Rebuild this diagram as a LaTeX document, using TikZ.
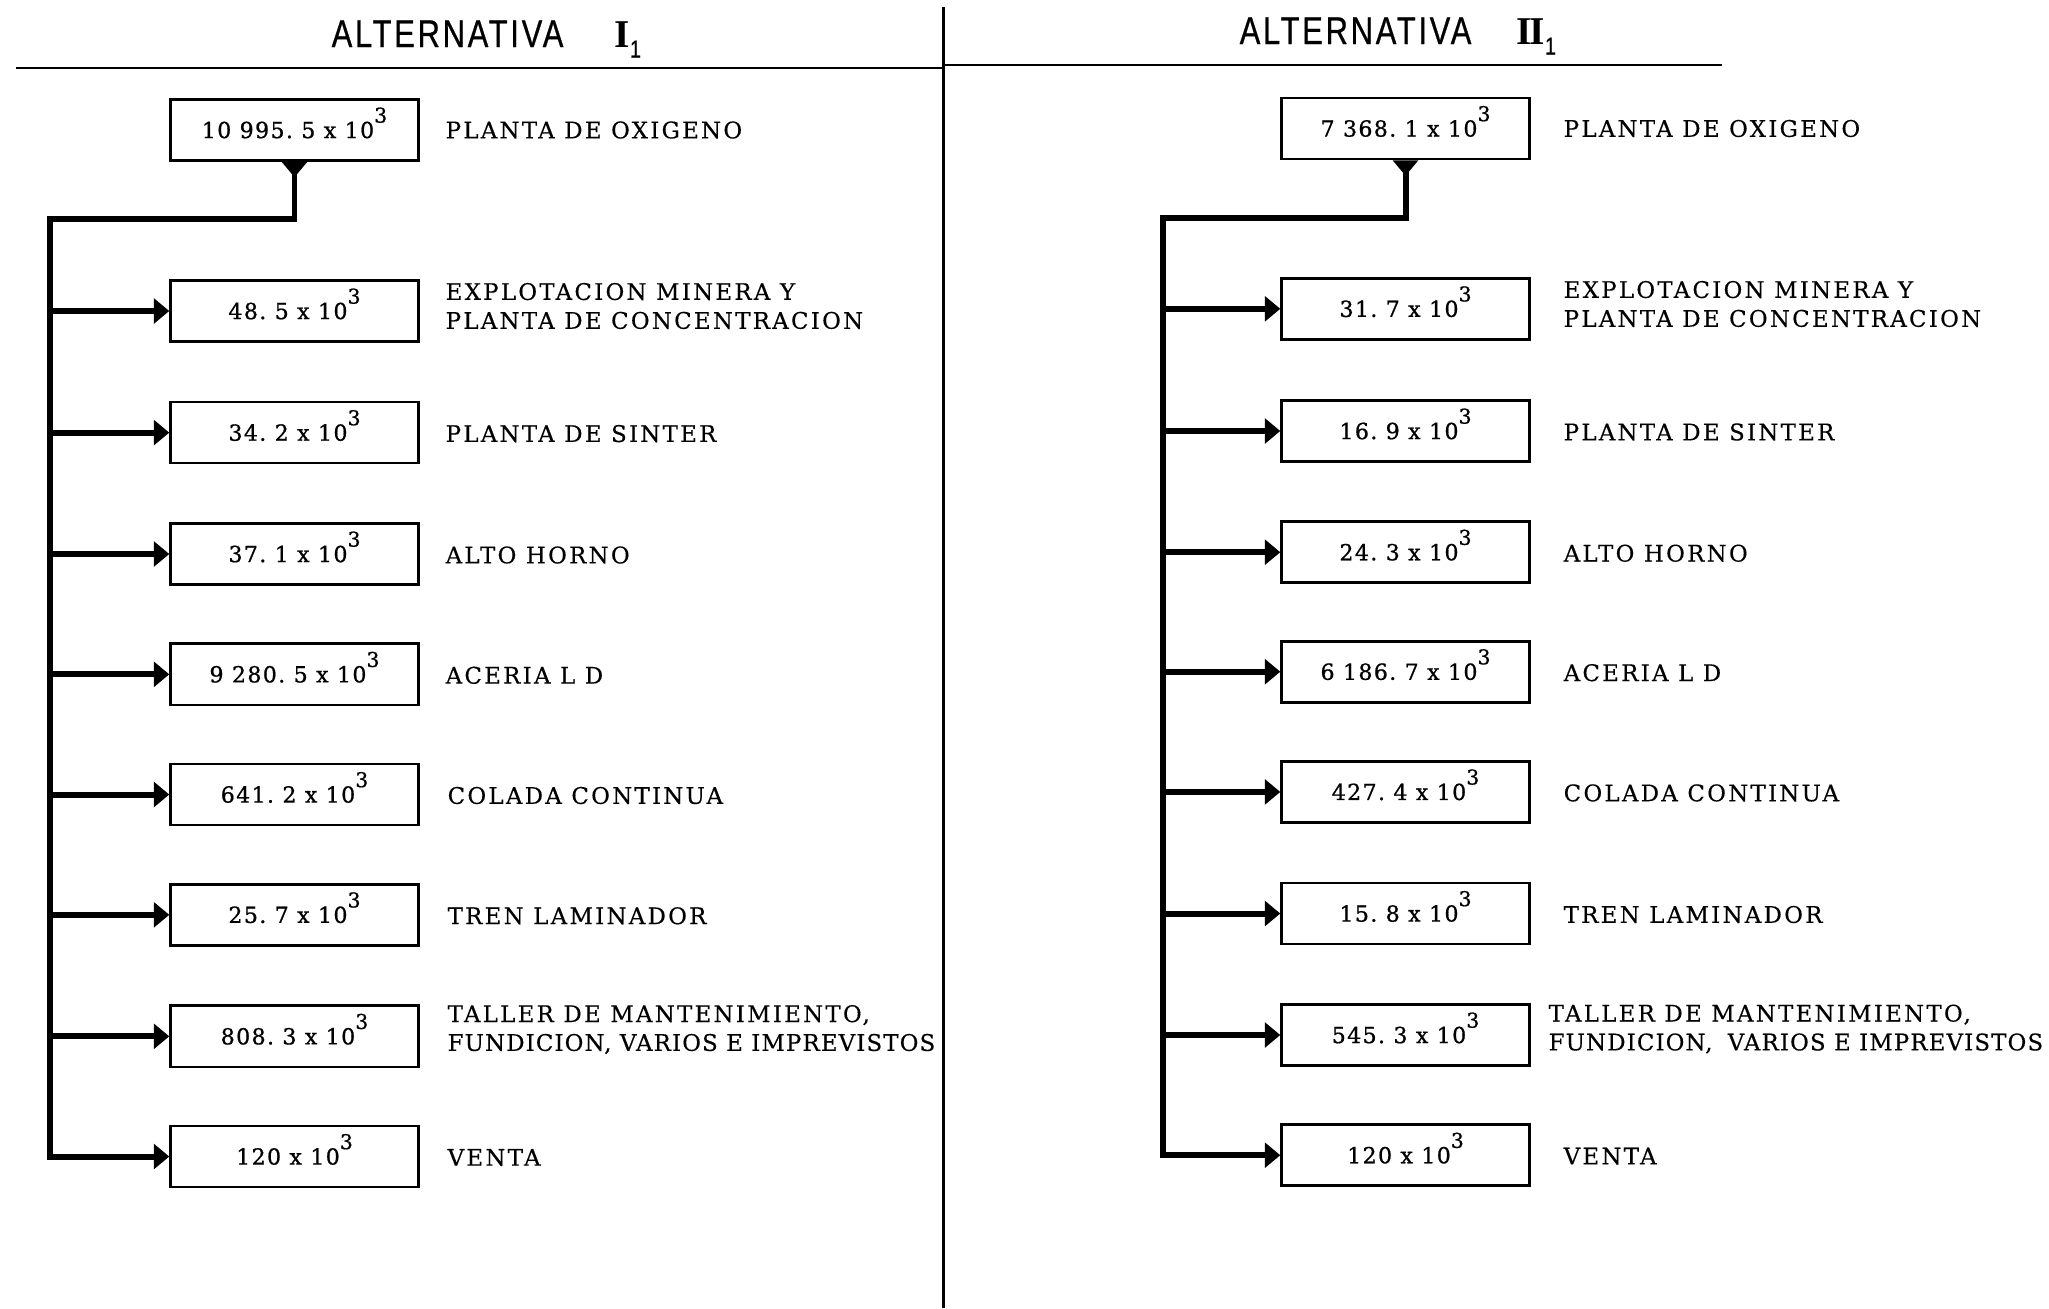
\documentclass[tikz,border=0pt]{standalone}
\usepackage{fontspec}
\usetikzlibrary{arrows.meta}
% typewriter-like lettering for labels and figures, narrow sans for headings
\newfontfamily\lblfont{DejaVu Serif}[LetterSpace=10,FakeBold=0.4]
\newfontfamily\lbltight{DejaVu Serif}[LetterSpace=5,FakeBold=0.4]
\newfontfamily\numfont{DejaVu Serif}[LetterSpace=6,FakeBold=0.8]
\newfontfamily\ttlfont{Liberation Sans}[FakeStretch=0.8,LetterSpace=7,FakeBold=0.6]
\newfontfamily\romfont{Liberation Serif}
\newcommand\tenpow{\smash{\raisebox{4.4pt}{\fontsize{5.8}{6}\selectfont 3}}}
\newcommand\romI{{\romfont\bfseries\fontsize{11.2}{11}\selectfont I}}
\newcommand\romII{{\romfont\bfseries\fontsize{11.2}{11}\selectfont I\kern-0.06em I}}
\newcommand\subone{\raisebox{-3pt}{\fontsize{7}{7}\selectfont 1}}

\tikzset{
  valbox/.style={draw, line width=0.75pt, minimum width=2.476cm, minimum height=0.61cm,
    inner sep=0pt, font=\numfont\fontsize{6.3}{7}\selectfont},
  lbl/.style={anchor=west, align=left, inner sep=0pt,
    font=\lblfont\fontsize{6.5}{8.2}\selectfont},
  ttl/.style={anchor=base west, inner sep=0pt, font=\ttlfont\fontsize{11}{12}\selectfont},
  bus/.style={line width=1.7pt},
  tip/.style={-{Triangle[length=4.4pt,width=7pt]}},
  feed/.style={bus, tip},
  rule/.style={line width=0.8pt},
}

\begin{document}
\begin{tikzpicture}[x=0.01cm, y=-0.01cm]
  \useasboundingbox (0,0) rectangle (2049,1308);
  \fill[white] (0,0) rectangle (2049,1308);

  % headings and rules
  \draw[line width=0.7pt] (943.5,7) -- (943.5,1308);
  \draw[rule] (16,68) -- (943.5,68);
  \draw[rule] (943.5,65) -- (1722,65);
  \node[ttl] (T1) at (331,47) {ALTERNATIVA};
  \node[ttl] (T1n) at (614,47) {\romI\subone};
  \node[ttl] (T2) at (1239,44) {ALTERNATIVA};
  \node[ttl] (T2n) at (1516,44) {\romII\subone};

  % ---- left column ----
  \node[valbox] (L0) at (294.5,130)    {10 995.\ 5 x 10\tenpow};
  \node[valbox] (L1) at (294.5,311)    {48.\ 5 x 10\tenpow};
  \node[valbox] (L2) at (294.5,432.6)  {34.\ 2 x 10\tenpow};
  \node[valbox] (L3) at (294.5,554)    {37.\ 1 x 10\tenpow};
  \node[valbox] (L4) at (294.5,674.3)  {9 280.\ 5 x 10\tenpow};
  \node[valbox] (L5) at (294.5,794.5)  {641.\ 2 x 10\tenpow};
  \node[valbox] (L6) at (294.5,914.8)  {25.\ 7 x 10\tenpow};
  \node[valbox] (L7) at (294.5,1036.3) {808.\ 3 x 10\tenpow};
  \node[valbox] (L8) at (294.5,1156.5) {120 x 10\tenpow};

  \node[lbl] (LA0) at (445,130)    {PLANTA DE OXIGENO};
  \node[lbl] (LA1) at (445,306)    {EXPLOTACION MINERA Y\\PLANTA DE CONCENTRACION};
  \node[lbl] (LA2) at (445,433.6)  {PLANTA DE SINTER};
  \node[lbl] (LA3) at (445,555)    {ALTO HORNO};
  \node[lbl] (LA4) at (445,675.3)  {ACERIA L D};
  \node[lbl] (LA5) at (447,795.5)  {COLADA CONTINUA};
  \node[lbl] (LA6) at (447,915.8)  {TREN LAMINADOR};
  \node[lbl] (LA7) at (447,1029.5) {TALLER DE MANTENIMIENTO,\\{\lbltight FUNDICION, VARIOS E IMPREVISTOS}};
  \node[lbl] (LA8) at (447,1157.5) {VENTA};

  \coordinate (LT) at (49.7,219);
  \draw[bus, {Triangle[reversed,length=4.4pt,width=7pt]}-{Triangle[length=4.4pt,width=7pt]}]
    (L0.south) |- (LT) |- (L8.west);
  \foreach \i in {1,...,7} \draw[feed] (LT |- L\i.west) -- (L\i.west);

  % ---- right column ----
  \node[valbox] (R0) at (1405.5,128.5)  {7 368.\ 1 x 10\tenpow};
  \node[valbox] (R1) at (1405.5,308.8)  {31.\ 7 x 10\tenpow};
  \node[valbox] (R2) at (1405.5,431)    {16.\ 9 x 10\tenpow};
  \node[valbox] (R3) at (1405.5,552.2)  {24.\ 3 x 10\tenpow};
  \node[valbox] (R4) at (1405.5,671.7)  {6 186.\ 7 x 10\tenpow};
  \node[valbox] (R5) at (1405.5,791.9)  {427.\ 4 x 10\tenpow};
  \node[valbox] (R6) at (1405.5,913.5)  {15.\ 8 x 10\tenpow};
  \node[valbox] (R7) at (1405.5,1035)   {545.\ 3 x 10\tenpow};
  \node[valbox] (R8) at (1405.5,1155.2) {120 x 10\tenpow};

  \node[lbl] (RA0) at (1563,128.5)  {PLANTA DE OXIGENO};
  \node[lbl] (RA1) at (1563,304)    {EXPLOTACION MINERA Y\\PLANTA DE CONCENTRACION};
  \node[lbl] (RA2) at (1563,432)    {PLANTA DE SINTER};
  \node[lbl] (RA3) at (1563,553.2)  {ALTO HORNO};
  \node[lbl] (RA4) at (1563,672.7)  {ACERIA L D};
  \node[lbl] (RA5) at (1563,792.9)  {COLADA CONTINUA};
  \node[lbl] (RA6) at (1563,914.5)  {TREN LAMINADOR};
  \node[lbl] (RA7) at (1548,1029)   {TALLER DE MANTENIMIENTO,\\{\lbltight FUNDICION,\hspace{0.3em} VARIOS E IMPREVISTOS}};
  \node[lbl] (RA8) at (1563,1156.2) {VENTA};

  \coordinate (RT) at (1162.5,218.3);
  \draw[bus, {Triangle[reversed,length=4.4pt,width=7pt]}-{Triangle[length=4.4pt,width=7pt]}]
    (R0.south) |- (RT) |- (R8.west);
  \foreach \i in {1,...,7} \draw[feed] (RT |- R\i.west) -- (R\i.west);
\end{tikzpicture}
\end{document}
